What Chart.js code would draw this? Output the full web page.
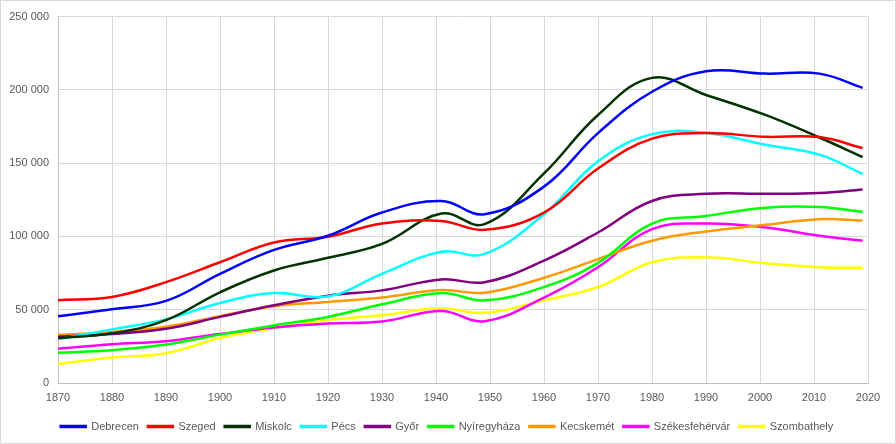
<!DOCTYPE html>
<html>
<head>
<meta charset="utf-8">
<script src="https://cdn.jsdelivr.net/npm/chart.js@4/dist/chart.umd.min.js"></script>
<style>
  body { margin: 0; background: #fff; }
  #wrap { position: relative; width: 896px; height: 444px; box-sizing: border-box; border: 1px solid #d9d9d9; }
</style>
</head>
<body>
<div id="wrap"><canvas id="myChart"></canvas></div>
<script>
'use strict';

// census years
let years = [1870, 1880, 1890, 1900, 1910, 1920, 1930, 1941, 1949, 1960, 1970, 1980, 1990, 2001, 2011, 2019];

let cityNames = ['Debrecen', 'Szeged', 'Miskolc', 'Pécs', 'Győr', 'Nyíregyháza', 'Kecskemét', 'Székesfehérvár', 'Szombathely'];
let cityColors = ['#0000ff', '#ff0000', '#003300', '#00ffff', '#800080', '#00ff00', '#ff9900', '#ff00ff', '#ffff00'];

let debrecen = [45500, 50300, 56000, 74500, 90800, 100500, 116300, 124200, 115200, 134000, 170500, 198700, 212700, 211100, 211100, 201400];
let szeged = [56500, 58700, 68800, 82400, 95900, 99800, 108800, 110600, 104500, 116300, 146300, 166700, 170500, 168000, 167800, 160300];
let miskolc = [30700, 33900, 42900, 61900, 76800, 85400, 94900, 115600, 108400, 143000, 182900, 208200, 196500, 182900, 167500, 154200];
let pecs = [29800, 36600, 43400, 54600, 61400, 59000, 74500, 89600, 88100, 115200, 151300, 169800, 170500, 162600, 155800, 142700];
let gyor = [31600, 33400, 37000, 45100, 53000, 59600, 63200, 70700, 68800, 83500, 102700, 124200, 129100, 129100, 129600, 132100];
let nyiregyhaza = [20700, 22400, 26200, 33000, 39300, 45100, 53700, 61400, 56400, 65500, 82000, 108800, 114000, 119600, 120100, 116900];
let kecskemet = [32900, 34800, 38400, 45600, 52400, 55300, 58300, 63400, 61600, 71800, 84500, 97100, 103400, 107900, 111800, 110800];
let szekesfehervar = [23400, 26400, 28500, 33400, 37900, 40600, 42000, 49200, 42200, 58300, 79000, 105000, 108800, 106100, 100500, 97100];
let szombathely = [13100, 17400, 20300, 30700, 37500, 42900, 46300, 51000, 47800, 56400, 65500, 82400, 85800, 81700, 79000, 78600];

let allSeries = [debrecen, szeged, miskolc, pecs, gyor, nyiregyhaza, kecskemet, szekesfehervar, szombathely];

let yMin = 0;
let yMax = 250000;
let yStep = 50000;
let xMin = 1870;
let xMax = 2020;
let xStep = 10;

function fmt(v) {
  return String(v).replace(/\B(?=(\d{3})+(?!\d))/g, ' ');
}

let datasets = [];
for (let i = 0; i < cityNames.length; i++) {
  let pts = [];
  for (let j = 0; j < years.length; j++) {
    pts.push({ x: years[j], y: allSeries[i][j] });
  }
  datasets.push({
    label: cityNames[i],
    data: pts,
    borderColor: cityColors[i],
    backgroundColor: cityColors[i],
    borderWidth: 2.5,
    pointRadius: 0,
    tension: 0.4,
    fill: false
  });
}

Chart.defaults.font.family = '"Liberation Sans", Arial, sans-serif';
Chart.defaults.font.size = 11;
Chart.defaults.color = '#595959';

let ctx = document.getElementById('myChart').getContext('2d');
let chart = new Chart(ctx, {
  type: 'line',
  data: { datasets: datasets },
  options: {
    responsive: true,
    maintainAspectRatio: false,
    animation: false,
    layout: { padding: { left: 7, right: 9, top: 6, bottom: 1 } },
    plugins: {
      legend: {
        position: 'bottom',
        labels: {
          boxWidth: 25,
          boxHeight: 1,
          padding: 9,
          color: '#595959'
        }
      },
      tooltip: { enabled: false }
    },
    scales: {
      x: {
        type: 'linear',
        min: xMin,
        max: xMax,
        ticks: { stepSize: xStep, callback: v => String(v), padding: 8 },
        grid: { color: '#d9d9d9', drawTicks: false },
        border: { color: '#bfbfbf' },
        afterFit: s => { s.height = 29; }
      },
      y: {
        min: yMin,
        max: yMax,
        ticks: { stepSize: yStep, callback: v => fmt(v), padding: 9 },
        grid: { color: '#d9d9d9', drawTicks: false },
        border: { color: '#bfbfbf' },
        afterFit: s => { s.width = 50; }
      },
      // empty spacer on the right so the plot ends at 2020 like the original
      yRight: {
        position: 'right',
        min: yMin,
        max: yMax,
        ticks: { display: false },
        grid: { display: false, drawTicks: false },
        border: { display: false },
        afterFit: s => { s.width = 18; }
      }
    }
  }
});
</script>
</body>
</html>
